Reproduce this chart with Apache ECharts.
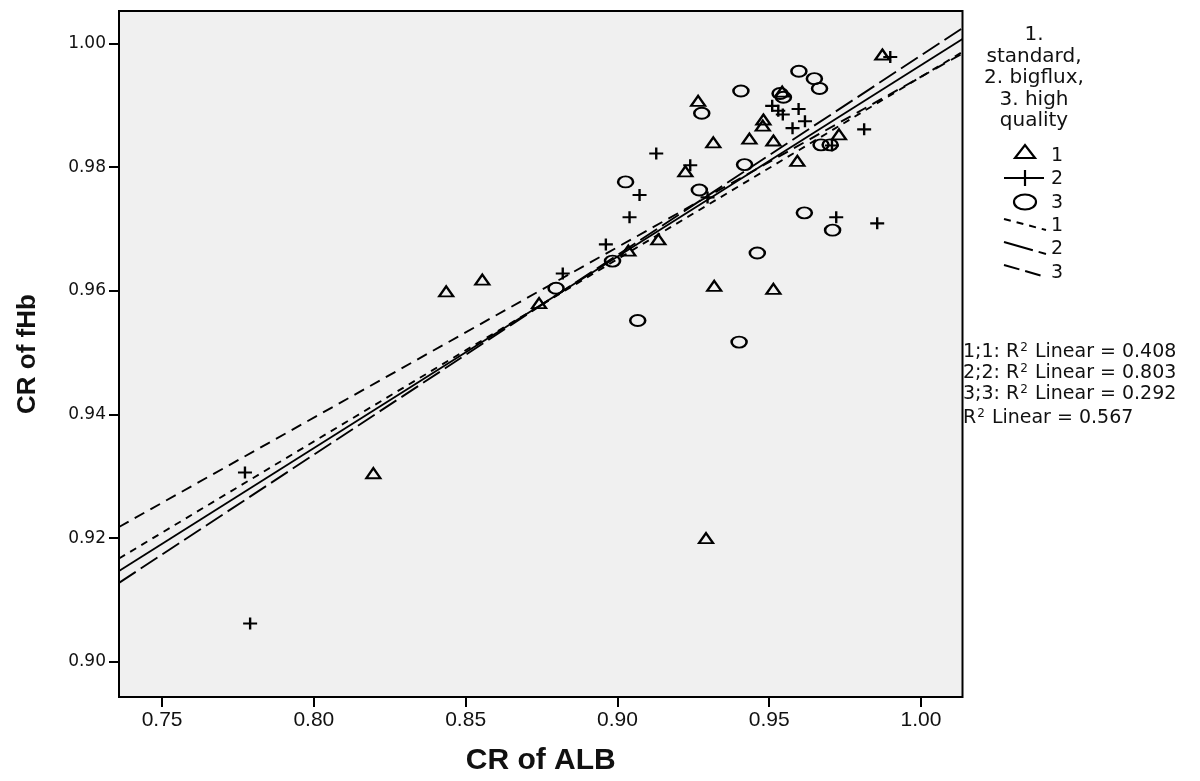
<!DOCTYPE html>
<html><head><meta charset="utf-8">
<script src="https://cdn.jsdelivr.net/npm/echarts@6/dist/echarts.min.js"></script>
<style>html,body{margin:0;padding:0;background:#fff}#c{width:1200px;height:781px}</style>
</head><body><div id="c"></div>
<script>
// ---- data ----
const xTicks = [0.75, 0.80, 0.85, 0.90, 0.95, 1.00];
const yTicks = [0.90, 0.92, 0.94, 0.96, 0.98, 1.00];

// group 1: standard (triangles)
const g1X = [0.9873,0.9543,0.9266,0.9481,0.9479,0.9316,0.9435,0.9514,0.9730,0.9593,0.9224,0.9135,0.9036,0.8742,0.8555,0.8436,0.9319,0.9514,0.8196,0.9292];
const g1Y = [0.9982,0.9922,0.9907,0.9877,0.9867,0.9840,0.9846,0.9843,0.9853,0.9810,0.9793,0.9683,0.9665,0.9580,0.9618,0.9599,0.9608,0.9603,0.9305,0.9200];
// group 2: bigflux (plus)
const g2X = [0.9899,0.9510,0.9530,0.9545,0.9597,0.9618,0.9577,0.9813,0.9707,0.9128,0.9240,0.9073,0.9297,0.9040,0.9721,0.9856,0.8962,0.8820,0.7773,0.7790];
const g2Y = [0.9978,0.9899,0.9891,0.9885,0.9894,0.9874,0.9863,0.9861,0.9835,0.9822,0.9803,0.9755,0.9751,0.9719,0.9719,0.9709,0.9675,0.9628,0.9306,0.9062];
// group 3: high quality (circles)
const g3X = [0.9598,0.9649,0.9666,0.9407,0.9536,0.9547,0.9278,0.9671,0.9701,0.9419,0.9027,0.9270,0.9616,0.9709,0.9461,0.8984,0.8798,0.9067,0.9401];
const g3Y = [0.9955,0.9943,0.9927,0.9923,0.9919,0.9913,0.9887,0.9836,0.9836,0.9804,0.9776,0.9763,0.9726,0.9698,0.9661,0.9648,0.9604,0.9552,0.9517];

const xRange = [0.7358, 1.0137];
const yRange = [0.89431, 1.00524];

const r2Labels = ['1;1: ', '2;2: ', '3;3: ', ''];
const r2Values = ['0.408', '0.803', '0.292', '0.567'];
const legendTitle = ['1.', 'standard,', '2. bigflux,', '3. high', 'quality'];

// ---- helpers ----
const zip = (xs, ys) => xs.map((v, i) => [v, ys[i]]);
// least-squares fit line across the plotted x range (SPSS "fit line")
function fitLine(xs, ys){
  const n=xs.length; let sx=0,sy=0,sxx=0,sxy=0;
  for(let i=0;i<n;i++){sx+=xs[i];sy+=ys[i];sxx+=xs[i]*xs[i];sxy+=xs[i]*ys[i];}
  const b=(n*sxy-sx*sy)/(n*sxx-sx*sx), a=(sy-b*sx)/n;
  return xRange.map(x=>[x, a+b*x]);
}

const TRI = 'path://M7,0L14,10L0,10Z';
const PLUS = 'path://M0,6L14,6M7,0L7,12';
const ELL = 'path://M0,5.5A7.5,5.5 0 1,0 15,5.5A7.5,5.5 0 1,0 0,5.5Z';
const hollow = {color:'rgba(0,0,0,0)', borderColor:'#000', borderWidth:2.2, opacity:1};

const Y_FONT = '"DejaVu Sans", sans-serif';
const ARIAL = '"Liberation Sans", Arial, sans-serif';

function lineSeries(data, dash){
  return {type:'line', data: data, showSymbol:false, symbol:'none', silent:true,
    lineStyle:{color:'#000', width:1.9, type: dash, opacity:1}, z:3};
}

const chart = echarts.init(document.getElementById('c'), null, {renderer:'canvas'});
const graphics = [];
// legend title
legendTitle.forEach((t,i)=>graphics.push({type:'text', x:1034, y:35+i*21.5,
  style:{text:t, font:'20px '+Y_FONT, fill:'#111', textAlign:'center', textVerticalAlign:'middle'}}));
// legend markers
graphics.push({type:'polygon', shape:{points:[[1015,158],[1035,158],[1025,145]]}, style:{fill:'none', stroke:'#000', lineWidth:2.2}});
graphics.push({type:'line', shape:{x1:1004,y1:178,x2:1044,y2:178}, style:{stroke:'#000', lineWidth:2.2}});
graphics.push({type:'line', shape:{x1:1025,y1:170,x2:1025,y2:186}, style:{stroke:'#000', lineWidth:2.2}});
graphics.push({type:'ellipse', shape:{cx:1025,cy:202,rx:11,ry:7.5}, style:{fill:'none', stroke:'#000', lineWidth:2.2}});
graphics.push({type:'line', shape:{x1:1004,y1:219,x2:1046,y2:230}, style:{stroke:'#000', lineWidth:2, lineDash:[7,6]}});
graphics.push({type:'line', shape:{x1:1004,y1:242,x2:1046,y2:254}, style:{stroke:'#000', lineWidth:2, lineDash:[30,6]}});
graphics.push({type:'line', shape:{x1:1004,y1:265,x2:1046,y2:277}, style:{stroke:'#000', lineWidth:2, lineDash:[16,6]}});
[['1',156],['2',179],['3',203],['1',226],['2',249],['3',273]].forEach(([t,y])=>graphics.push({type:'text', x:1051, y:y,
  style:{text:t, font:'19px '+Y_FONT, fill:'#111', textVerticalAlign:'middle'}}));
// R2 annotations
r2Labels.forEach((lab,i)=>graphics.push({type:'text', x:963, y:[352,373,394,418][i],
  style:{text:'{n|'+lab+'R}{s|2}{n| Linear = '+r2Values[i]+'}', textVerticalAlign:'middle',
    rich:{n:{font:'19px '+Y_FONT, fill:'#111'}, s:{font:'12px '+Y_FONT, fill:'#111', verticalAlign:'top', padding:[0,1,9,1]}}}}));

chart.setOption({
  backgroundColor:'#ffffff',
  animation:false,
  grid:{left:119, right:237.5, top:11, bottom:81.7, show:true, backgroundColor:'#f0f0f0', borderColor:'#000', borderWidth:2},
  xAxis:{type:'value', min:xRange[0], max:xRange[1], splitLine:{show:false},
    axisLine:{show:false},
    axisTick:{show:true, customValues:xTicks, length:10, lineStyle:{color:'#000', width:2}},
    axisLabel:{customValues:xTicks, formatter:v=>v.toFixed(2), fontFamily:ARIAL, fontSize:21, color:'#111', margin:13},
    name:'CR of ALB', nameLocation:'middle', nameGap:49,
    nameTextStyle:{fontFamily:ARIAL, fontWeight:'bold', fontSize:30, color:'#111'}},
  yAxis:{type:'value', min:yRange[0], max:yRange[1], splitLine:{show:false},
    axisLine:{show:false},
    axisTick:{show:true, customValues:yTicks, length:10, lineStyle:{color:'#000', width:2}},
    axisLabel:{customValues:yTicks, formatter:v=>v.toFixed(2), fontFamily:Y_FONT, fontSize:17, color:'#111', margin:13},
    name:'CR of fHb', nameLocation:'middle', nameGap:78, nameRotate:90,
    nameTextStyle:{fontFamily:ARIAL, fontWeight:'bold', fontSize:26, color:'#111'}},
  series:[
    lineSeries(fitLine(g1X, g1Y), [7,6]),
    lineSeries(fitLine(g2X, g2Y), [20,6]),
    lineSeries(fitLine(g3X, g3Y), [11,7]),
    lineSeries(fitLine(g1X.concat(g2X, g3X), g1Y.concat(g2Y, g3Y)), 'solid'),
    {type:'scatter', data:zip(g1X,g1Y), symbol:TRI, symbolSize:[14,10], itemStyle:hollow, z:4},
    {type:'scatter', data:zip(g2X,g2Y), symbol:PLUS, symbolSize:[14,12], itemStyle:hollow, z:4},
    {type:'scatter', data:zip(g3X,g3Y), symbol:ELL, symbolSize:[15,11], itemStyle:hollow, z:4}
  ],
  graphic:graphics
});
</script></body></html>
